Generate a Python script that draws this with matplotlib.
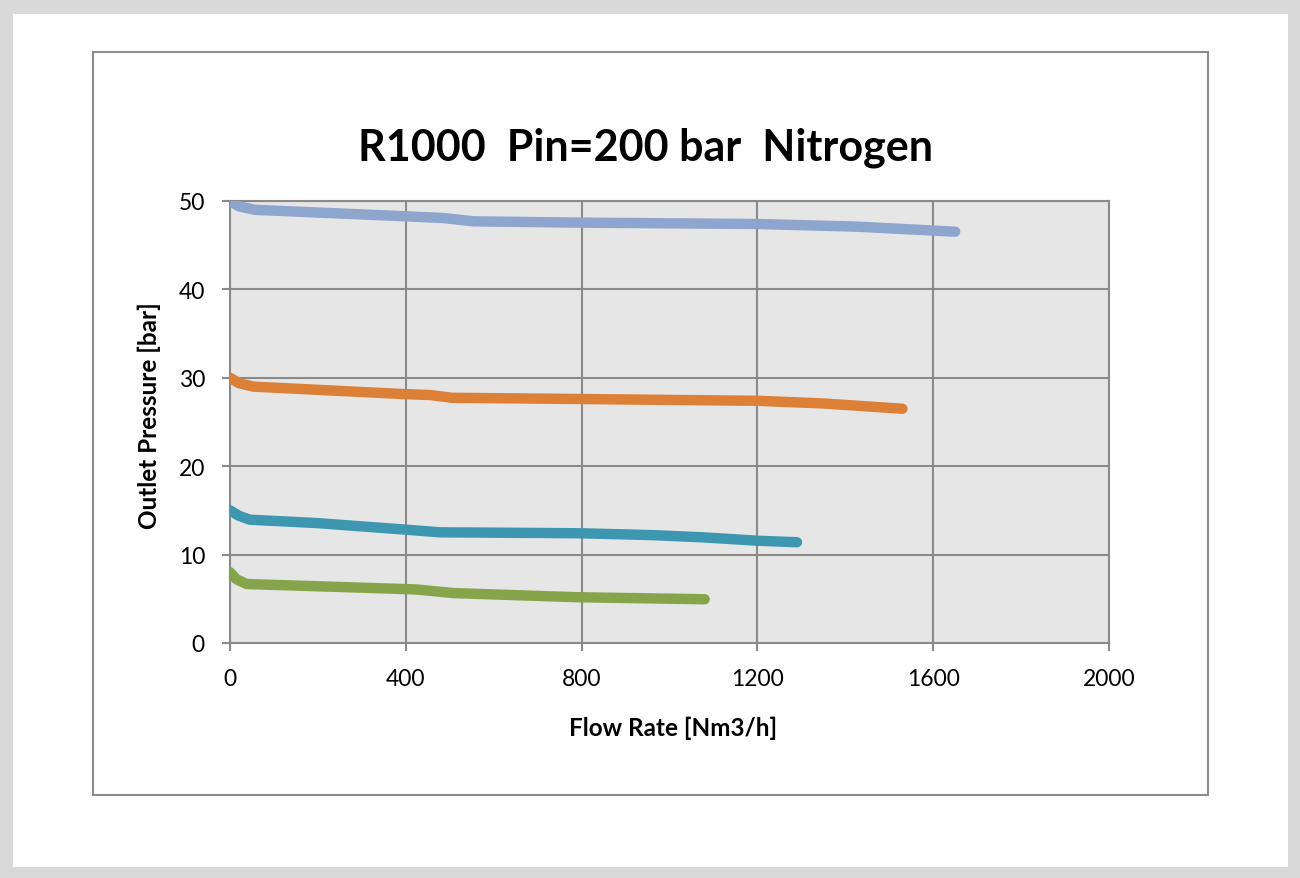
import matplotlib
matplotlib.use("Agg")
import matplotlib.pyplot as plt
from matplotlib.patches import Rectangle

# --- data -----------------------------------------------------------------------
flow_50 = [0, 20, 57, 400, 485, 553, 800, 1200, 1426, 1650]
pout_50 = [50.0, 49.4, 49.0, 48.27, 48.08, 47.7, 47.55, 47.4, 47.1, 46.53]

flow_30 = [0, 20, 53, 400, 455, 505, 800, 1200, 1349, 1530]
pout_30 = [30.0, 29.4, 29.0, 28.15, 28.05, 27.74, 27.6, 27.4, 27.1, 26.5]

flow_15 = [0, 20, 45, 197, 400, 478, 728, 800, 963, 1077, 1200, 1290]
pout_15 = [15.0, 14.4, 13.95, 13.57, 12.82, 12.52, 12.44, 12.41, 12.2, 11.95, 11.57, 11.4]

flow_8 = [0, 15, 38, 159, 400, 425, 508, 728, 800, 1080]
pout_8 = [8.0, 7.2, 6.67, 6.48, 6.1, 6.05, 5.65, 5.28, 5.17, 4.95]

series = [
    (flow_50, pout_50, "#8EA5CD"),
    (flow_30, pout_30, "#DC7F37"),
    (flow_15, pout_15, "#3E97B0"),
    (flow_8, pout_8, "#86A54A"),
]

x_ticks = [0, 400, 800, 1200, 1600, 2000]
y_ticks = [0, 10, 20, 30, 40, 50]

FONT = ["Lato", "DejaVu Sans"]
GRID = "#8A8A8A"

# --- figure ---------------------------------------------------------------------
W, H = 1300, 879
fig = plt.figure(figsize=(W / 100, H / 100), dpi=100)
fig.patch.set_facecolor("#D9D9D9")

# white page and chart frame (figure pixel coords)
def px_rect(x0, y0, x1, y1, **kw):
    return Rectangle((x0 / W, 1 - y1 / H), (x1 - x0) / W, (y1 - y0) / H,
                     transform=fig.transFigure, zorder=-5, **kw)

fig.patches.append(px_rect(13, 15, 1288, 868, facecolor="white", edgecolor="none"))
fig.patches.append(px_rect(93, 53, 1208, 796, facecolor="white",
                           edgecolor="#8C8C8C", linewidth=1.5))

ax = fig.add_axes([230 / W, 1 - 644 / H, (1109 - 230) / W, (644 - 202) / H])
ax.set_zorder(2)
ax.set_facecolor("#E6E6E6")

for fx, py, col in series:
    ax.plot(fx, py, color=col, linewidth=7.5, solid_capstyle="round",
            solid_joinstyle="round", zorder=3)

ax.set_xlim(0, 2000)
ax.set_ylim(0, 50)
ax.set_xticks(x_ticks)
ax.set_yticks(y_ticks)
ax.grid(True, color=GRID, linewidth=1.5, zorder=1)
ax.set_axisbelow(True)
for sp in ax.spines.values():
    sp.set_color(GRID)
    sp.set_linewidth(1.5)
ax.tick_params(direction="out", length=6, width=1.5, color=GRID,
               labelsize=16.5, pad=12)
for lbl in ax.get_xticklabels() + ax.get_yticklabels():
    lbl.set_family(FONT)

fig.text(646 / W, 1 - 148 / H, "R1000  Pin=200 bar  Nitrogen", ha="center",
         va="center", fontsize=31, fontweight="bold", family=FONT)
fig.text(673 / W, 1 - 728 / H, "Flow Rate [Nm3/h]", ha="center", va="center",
         fontsize=17.5, fontweight="bold", family=FONT)
fig.text(149 / W, 1 - 416 / H, "Outlet Pressure [bar]", ha="center", va="center",
         rotation=90, fontsize=17.5, fontweight="bold", family=FONT)

fig.savefig("out.png", dpi=100, facecolor=fig.get_facecolor())
